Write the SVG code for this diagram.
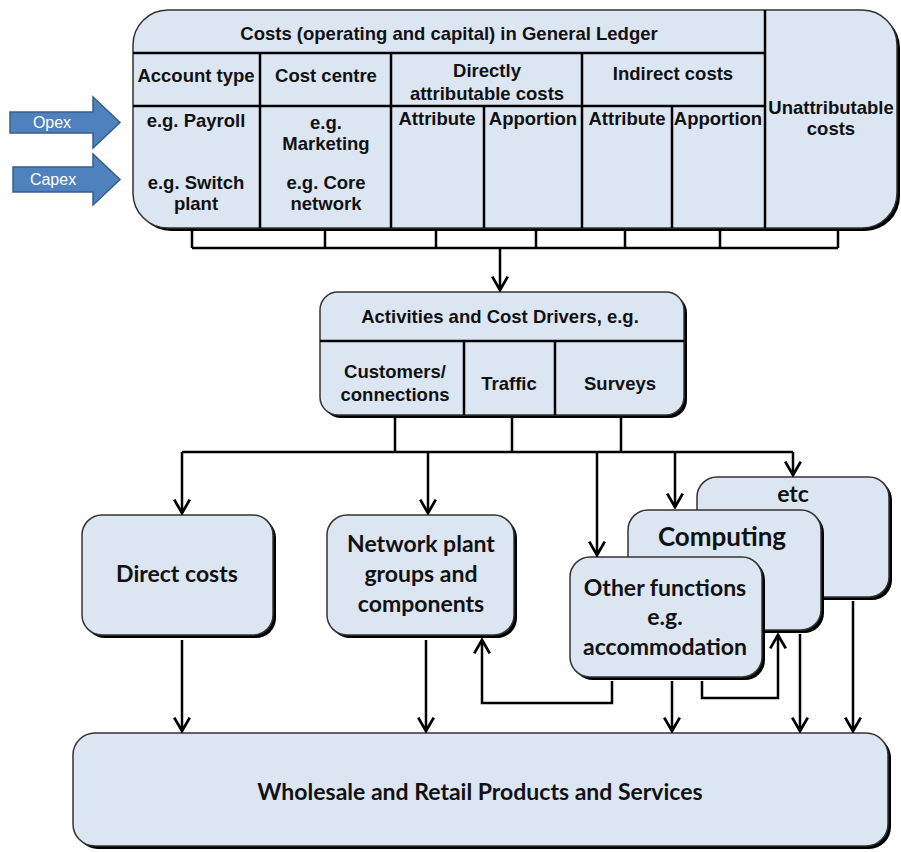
<svg xmlns="http://www.w3.org/2000/svg" width="901" height="852" viewBox="0 0 901 852">
<style>
.box{fill:#dce6f2;stroke:#333;stroke-width:1.5}
.shd{fill:#000}
.ln{stroke:#000;stroke-width:2.5;fill:none}
.cn{stroke:#000;stroke-width:2.5;fill:none}
.ar{stroke:#000;stroke-width:2.5;fill:none;marker-end:url(#ah)}
.a{font-family:"Liberation Sans",Arial,sans-serif;font-weight:bold;font-size:18.5px;fill:#111;text-anchor:middle}
.c{font-family:Lato,"Liberation Sans",sans-serif;font-weight:bold;font-size:23px;fill:#111;text-anchor:middle}
.blu{fill:#4f81bd;stroke:#385d8a;stroke-width:1.5}
.w{font-family:"Liberation Sans",Arial,sans-serif;font-size:16px;fill:#fff;text-anchor:middle}
</style>
<defs>
<marker id="ah" markerUnits="userSpaceOnUse" markerWidth="18" markerHeight="20" viewBox="-2 -2 16 18" refX="12" refY="7" orient="auto">
<path d="M0,0 L12,7 L0,14" stroke="#000" stroke-width="2.5" fill="none"/>
</marker>
</defs>

<g id="opex">
<polygon class="blu" points="10,112 93,112 93,97 120,122.5 93,148 93,133 10,133"/>
<text class="w" x="52" y="128">Opex</text>
</g>
<g id="capex">
<polygon class="blu" points="13,167 93,167 93,154 120,179.5 93,205 93,192 13,192"/>
<text class="w" x="53" y="185">Capex</text>
</g>

<g id="ledger">
<rect class="shd" x="136" y="13" width="764" height="218" rx="35"/>
<rect class="box" x="133" y="10" width="764" height="218" rx="35"/>
<path class="ln" d="M133,53 H765 M133,106 H765 M765,10 V228 M260,53 V228 M391,53 V228 M582,53 V228 M484,106 V228 M672,106 V228"/>
<text class="a" x="449" y="40">Costs (operating and capital) in General Ledger</text>
<text class="a" x="196" y="81.5">Account type</text>
<text class="a" x="326" y="81.5">Cost centre</text>
<text class="a" x="487" y="77">Directly</text>
<text class="a" x="487" y="100">attributable costs</text>
<text class="a" x="673" y="80">Indirect costs</text>
<text class="a" x="831" y="114">Unattributable</text>
<text class="a" x="831" y="135">costs</text>
<text class="a" x="196" y="126.5">e.g. Payroll</text>
<text class="a" x="196" y="188.5">e.g. Switch</text>
<text class="a" x="196" y="210">plant</text>
<text class="a" x="326" y="129">e.g.</text>
<text class="a" x="326" y="150">Marketing</text>
<text class="a" x="326" y="188.5">e.g. Core</text>
<text class="a" x="326" y="210">network</text>
<text class="a" x="437" y="124.5">Attribute</text>
<text class="a" x="533" y="124.5">Apportion</text>
<text class="a" x="627" y="124.5">Attribute</text>
<text class="a" x="718" y="124.5">Apportion</text>
</g>

<g id="activities">
<rect class="shd" x="323" y="295" width="364" height="123" rx="18"/>
<rect class="box" x="320" y="292" width="364" height="123" rx="18"/>
<path class="ln" d="M320,341 H684 M464,341 V415 M555,341 V415"/>
<text class="a" x="500" y="322.5">Activities and Cost Drivers, e.g.</text>
<text class="a" x="395" y="378">Customers/</text>
<text class="a" x="395" y="401">connections</text>
<text class="a" x="509" y="389.5">Traffic</text>
<text class="a" x="620" y="389.5">Surveys</text>
</g>

<g id="direct">
<rect class="shd" x="85" y="518" width="191" height="120" rx="20"/>
<rect class="box" x="82" y="515" width="191" height="120" rx="20"/>
<text class="c" x="177" y="582">Direct costs</text>
</g>
<g id="network">
<rect class="shd" x="330" y="518" width="187" height="120" rx="20"/>
<rect class="box" x="327" y="515" width="187" height="120" rx="20"/>
<text class="c" x="421" y="552">Network plant</text>
<text class="c" x="421" y="582">groups and</text>
<text class="c" x="421" y="612">components</text>
</g>
<g id="etc">
<rect class="shd" x="700" y="480" width="192" height="120" rx="20"/>
<rect class="box" x="697" y="477" width="192" height="120" rx="20"/>
<text class="c" x="793" y="502">etc</text>
</g>
<g id="computing">
<rect class="shd" x="631" y="513" width="193" height="120" rx="20"/>
<rect class="box" x="628" y="510" width="193" height="120" rx="20"/>
<text class="c" x="722" y="546" style="font-size:26px">Computing</text>
</g>
<g id="other">
<rect class="shd" x="573" y="560" width="192" height="120" rx="20"/>
<rect class="box" x="570" y="557" width="192" height="120" rx="20"/>
<text class="c" x="665" y="596">Other functions</text>
<text class="c" x="665" y="625">e.g.</text>
<text class="c" x="665" y="655">accommodation</text>
</g>
<g id="wholesale">
<rect class="shd" x="76" y="736" width="815" height="113" rx="22"/>
<rect class="box" x="73" y="733" width="815" height="113" rx="22"/>
<text class="c" x="480" y="800">Wholesale and Retail Products and Services</text>
</g>

<g id="connectors">
<path class="cn" d="M192,229 V248 M325,229 V248 M436,229 V248 M536,229 V248 M625,229 V248 M720,229 V248 M838,229 V248 M192,248 H838"/>
<path class="ar" d="M500,248 V290"/>
<path class="cn" d="M395,417 V452 M512,417 V452 M621,417 V452 M182,452 H793"/>
<path class="ar" d="M182,452 V513"/>
<path class="ar" d="M428,452 V513"/>
<path class="ar" d="M597,452 V555"/>
<path class="ar" d="M675,452 V507"/>
<path class="ar" d="M793,452 V475"/>
<path class="ar" d="M182,640 V731"/>
<path class="ar" d="M426,640 V731"/>
<path class="ar" d="M672,681 V731"/>
<path class="ar" d="M800,634 V731"/>
<path class="ar" d="M853,601 V731"/>
<path class="ar" d="M612,681 V703 H482 V640"/>
<path class="ar" d="M702,681 V698 H778 V635"/>
</g>
</svg>
